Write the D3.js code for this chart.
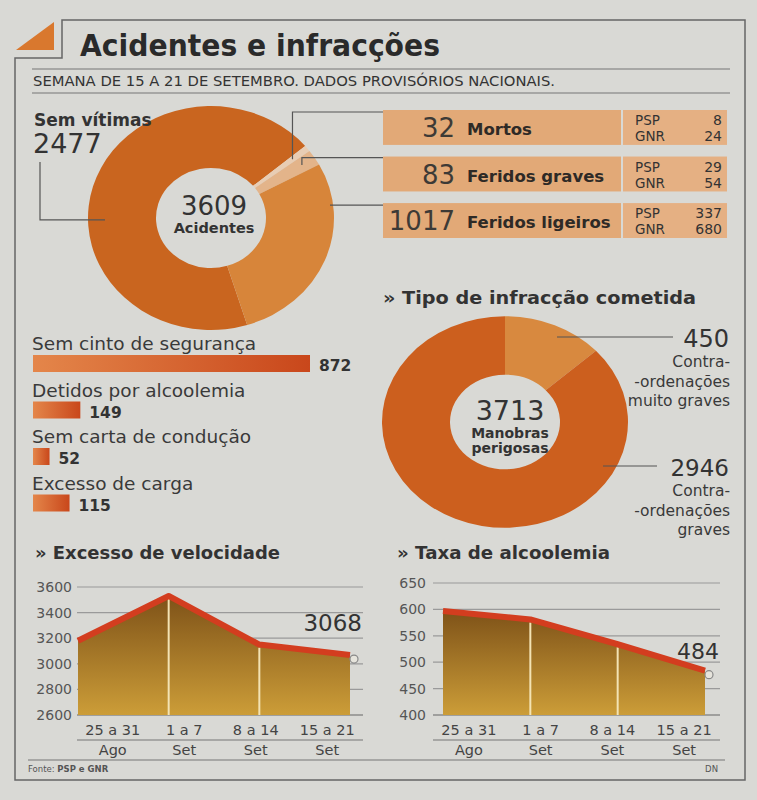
<!DOCTYPE html>
<html>
<head>
<meta charset="utf-8">
<script src="https://cdn.jsdelivr.net/npm/d3@7"></script>
<style>
  body { margin: 0; background: #d9d9d5; }
  text { font-family: "DejaVu Sans", sans-serif; fill: #333; }
  .b { font-weight: bold; }
</style>
</head>
<body>
<div id="chart"></div>
<script>
// accidents donut
const accLabels = ["Sem vítimas", "Mortos", "Feridos graves", "Feridos ligeiros"];
const accValues = [2477, 32, 83, 1017];
const accTotal = 3609;
const psp = [8, 29, 337];
const gnr = [24, 54, 680];

// bars
const barLabels = ["Sem cinto de segurança", "Detidos por alcoolemia", "Sem carta de condução", "Excesso de carga"];
const barValues = [872, 149, 52, 115];

// infractions donut
const infLabels = [["Contra-", "-ordenações", "muito graves"], ["Contra-", "-ordenações", "graves"]];
const infValues = [450, 2946];
const infTotal = 3713;

// weekly series
const weeks = ["25 a 31", "1 a 7", "8 a 14", "15 a 21"];
const months = ["Ago", "Set", "Set", "Set"];
const speedValues = [3180, 3530, 3150, 3068];
const speedTicks = [2600, 2800, 3000, 3200, 3400, 3600];
const alcValues = [597, 581, 534, 484];
const alcTicks = [400, 450, 500, 550, 600, 650];

const W = 757, H = 800;
const svg = d3.select("#chart").append("svg")
    .attr("width", W).attr("height", H);

const defs = svg.append("defs");
const barGrad = defs.append("linearGradient").attr("id", "barGrad");
barGrad.append("stop").attr("offset", "0%").attr("stop-color", "#e4864a");
barGrad.append("stop").attr("offset", "100%").attr("stop-color", "#c9471b");
const areaGrad = defs.append("linearGradient").attr("id", "areaGrad")
    .attr("x1", 0).attr("y1", 0).attr("x2", 0).attr("y2", 1);
areaGrad.append("stop").attr("offset", "0%").attr("stop-color", "#7e5218");
areaGrad.append("stop").attr("offset", "100%").attr("stop-color", "#cc9d38");

// frame
const line = (x1, y1, x2, y2, c, w) => svg.append("line")
    .attr("x1", x1).attr("y1", y1).attr("x2", x2).attr("y2", y2)
    .attr("stroke", c || "#555").attr("stroke-width", w || 1.2);
svg.append("path")
    .attr("d", "M62,20 H745 V780 H15 V58 H62 Z")
    .attr("fill", "none").attr("stroke", "#666").attr("stroke-width", 1.5);
svg.append("path").attr("d", "M16,50 L54,22 L54,50 Z").attr("fill", "#d9782e");

svg.append("text").attr("class", "b").attr("x", 80).attr("y", 56)
    .attr("font-size", 30).attr("textLength", 360).attr("lengthAdjust", "spacingAndGlyphs")
    .style("fill", "#2a2a2a").text("Acidentes e infracções");
line(32, 69, 730, 69, "#777");
svg.append("text").attr("x", 33).attr("y", 86).attr("font-size", 13.5)
    .attr("textLength", 522).attr("lengthAdjust", "spacingAndGlyphs")
    .text("SEMANA DE 15 A 21 DE SETEMBRO. DADOS PROVISÓRIOS NACIONAIS.");
line(32, 93, 730, 93, "#777");

// ---- donut 1
const c1 = { x: 211, y: 218, r: 123, ir: 55, sy: 0.91 };
const pie1 = d3.pie().sort(null)
    .startAngle(-197.1 * Math.PI / 180).endAngle((360 - 197.1) * Math.PI / 180);
const arcs1 = pie1(accValues);
const arc1 = d3.arc().innerRadius(c1.ir).outerRadius(c1.r);
const accColors = ["#c9651f", "#e8cdb4", "#e3b48a", "#d7853a"];
const g1 = svg.append("g").attr("transform", `translate(${c1.x},${c1.y}) scale(1,${c1.sy})`);
g1.selectAll("path").data(arcs1).join("path")
    .attr("d", arc1).attr("fill", (d, i) => accColors[i]);

const pt1 = (a, r) => [c1.x + Math.sin(a) * r, c1.y - Math.cos(a) * r * c1.sy];
svg.append("text").attr("x", c1.x + 3).attr("y", c1.y - 3).attr("text-anchor", "middle")
    .attr("font-size", 26).text(accTotal);
svg.append("text").attr("class", "b").attr("x", c1.x + 3).attr("y", c1.y + 15)
    .attr("text-anchor", "middle").attr("font-size", 14.5).text("Acidentes");

svg.append("text").attr("class", "b").attr("x", 34).attr("y", 126).attr("font-size", 17)
    .text(accLabels[0]);
svg.append("text").attr("x", 33).attr("y", 153).attr("font-size", 27).text(accValues[0]);
const semPt = pt1(-Math.PI / 2 - 0.02, 106);
svg.append("path").attr("d", `M40,162 V${semPt[1]} H${semPt[0]}`)
    .attr("fill", "none").attr("stroke", "#555").attr("stroke-width", 1.2);

// boxes
const yBox = d3.scaleBand().domain(accLabels.slice(1)).range([110, 238]).paddingInner(0.25);
const boxX0 = 383, boxDiv = 623, boxX1 = 727;
accLabels.slice(1).forEach((lab, i) => {
  const y = yBox(lab), h = yBox.bandwidth();
  svg.append("rect").attr("x", boxX0).attr("y", y).attr("width", boxDiv - boxX0 - 2).attr("height", h)
    .attr("fill", "#e2a977");
  svg.append("rect").attr("x", boxDiv).attr("y", y).attr("width", boxX1 - boxDiv).attr("height", h)
    .attr("fill", "#e5b083");
  svg.append("text").attr("x", 455).attr("y", y + 27).attr("text-anchor", "end")
    .attr("font-size", 26).style("fill", "#3d3a36").text(accValues[i + 1]);
  svg.append("text").attr("class", "b").attr("x", 467).attr("y", y + 25)
    .attr("font-size", 16.5).style("fill", "#2e2a26").text(lab);
  svg.append("text").attr("x", 635).attr("y", y + 15).attr("font-size", 13.5).text("PSP");
  svg.append("text").attr("x", 635).attr("y", y + 31).attr("font-size", 13.5).text("GNR");
  svg.append("text").attr("x", 722).attr("y", y + 15).attr("text-anchor", "end").attr("font-size", 14).text(psp[i]);
  svg.append("text").attr("x", 722).attr("y", y + 31).attr("text-anchor", "end").attr("font-size", 14).text(gnr[i]);
});
// leader lines to boxes
const mA = (arcs1[1].startAngle + arcs1[1].endAngle) / 2;
const mP = pt1(mA, 104);
svg.append("path").attr("d", `M${mP[0]},${mP[1]} V${yBox(accLabels[1]) + 2} H${boxX0}`)
  .attr("fill", "none").attr("stroke", "#555").attr("stroke-width", 1.2);
const gA = (arcs1[2].startAngle + arcs1[2].endAngle) / 2;
const gP = pt1(gA, 108);
svg.append("path").attr("d", `M${gP[0]},${gP[1]} V${yBox(accLabels[2]) + 1} H${boxX0}`)
  .attr("fill", "none").attr("stroke", "#555").attr("stroke-width", 1.2);
line(c1.x + 119, yBox(accLabels[3]) + 2, boxX0, yBox(accLabels[3]) + 2, "#555");

// ---- bars
const xBar = d3.scaleLinear().domain([0, 872]).range([0, 277]);
barLabels.forEach((lab, i) => {
  const y0 = 350 + i * 46.5;
  svg.append("text").attr("x", 32).attr("y", y0).attr("font-size", 18.5).style("fill", "#3a3a3a").text(lab);
  svg.append("rect").attr("x", 33).attr("y", y0 + 5).attr("width", xBar(barValues[i])).attr("height", 17)
    .attr("fill", "url(#barGrad)");
  svg.append("text").attr("class", "b").attr("x", 33 + xBar(barValues[i]) + 9)
    .attr("y", y0 + 21).attr("font-size", 15.5).text(barValues[i]);
});

// ---- donut 2
svg.append("text").attr("class", "b").attr("x", 383).attr("y", 304).attr("font-size", 17)
    .attr("textLength", 313).attr("lengthAdjust", "spacingAndGlyphs")
    .text("» Tipo de infracção cometida");
const c2 = { x: 505, y: 422, r: 123, ir: 55, sy: 0.86 };
const arcs2 = d3.pie().sort(null)(infValues);
const arc2 = d3.arc().innerRadius(c2.ir).outerRadius(c2.r);
const g2 = svg.append("g").attr("transform", `translate(${c2.x},${c2.y}) scale(1,${c2.sy})`);
g2.selectAll("path").data(arcs2).join("path")
    .attr("d", arc2).attr("fill", (d, i) => ["#d8893f", "#cc5f1e"][i]);
svg.append("text").attr("x", c2.x + 5).attr("y", c2.y - 2).attr("text-anchor", "middle")
    .attr("font-size", 27).text(infTotal);
svg.append("text").attr("class", "b").attr("x", c2.x + 5).attr("y", c2.y + 16)
    .attr("text-anchor", "middle").attr("font-size", 14).text("Manobras");
svg.append("text").attr("class", "b").attr("x", c2.x + 5).attr("y", c2.y + 31)
    .attr("text-anchor", "middle").attr("font-size", 14).text("perigosas");

const infY = [347, 476];
const infLine = [[557, 673], [603, 657]];
const infSize = [24, 23];
infValues.forEach((v, i) => {
  line(infLine[i][0], infY[i] - 10, infLine[i][1], infY[i] - 10, "#555");
  svg.append("text").attr("x", 729).attr("y", infY[i]).attr("text-anchor", "end")
    .attr("font-size", infSize[i]).text(v);
  infLabels[i].forEach((t, j) => {
    svg.append("text").attr("x", 730).attr("y", infY[i] + 20 + j * 19.5).attr("text-anchor", "end")
      .attr("font-size", 15.5).style("fill", "#3a3a3a").text(t);
  });
});

// ---- area charts
function areaChart(opt) {
  const y = d3.scaleLinear().domain(opt.domain).range([715, opt.top]);
  const x = d3.scalePoint().domain(weeks).range(opt.px);
  const xb = d3.scaleBand().domain(weeks).range(opt.grid);
  const g = svg.append("g");
  g.append("text").attr("class", "b").attr("x", opt.titleX).attr("y", 559).attr("font-size", 17)
    .attr("textLength", opt.titleW).attr("lengthAdjust", "spacingAndGlyphs")
    .text(opt.title);
  opt.ticks.forEach(t => {
    g.append("line").attr("x1", opt.grid[0]).attr("x2", opt.grid[1]).attr("y1", y(t)).attr("y2", y(t))
      .attr("stroke", t === opt.domain[0] ? "#666" : "#9a9a9a").attr("stroke-width", 1.2);
    g.append("text").attr("x", opt.labX).attr("y", y(t) + 5).attr("text-anchor", "end")
      .attr("font-size", 14).style("fill", "#555").text(t);
  });
  const pts = opt.values.map((v, i) => ({ k: weeks[i], v }));
  g.append("path").datum(pts)
    .attr("d", d3.area().x(d => x(d.k)).y0(y(opt.domain[0])).y1(d => y(d.v)))
    .attr("fill", "url(#areaGrad)");
  pts.slice(1, -1).forEach(d => {
    g.append("line").attr("x1", x(d.k)).attr("x2", x(d.k)).attr("y1", y(d.v) + 3).attr("y2", y(opt.domain[0]))
      .attr("stroke", "#f3e3b4").attr("stroke-width", 2);
  });
  g.append("path").datum(pts)
    .attr("d", d3.line().x(d => x(d.k)).y(d => y(d.v)))
    .attr("fill", "none").attr("stroke", "#d33d1f").attr("stroke-width", 6).attr("stroke-linejoin", "round");
  const last = pts[pts.length - 1];
  g.append("circle").attr("cx", x(last.k) + 4).attr("cy", y(last.v) + 4).attr("r", 4)
    .attr("fill", "#e6e4dc").attr("stroke", "#888").attr("stroke-width", 1.2);
  g.append("text").attr("x", opt.grid[1] - 1).attr("y", y(last.v) - opt.lastOff).attr("text-anchor", "end")
    .attr("font-size", opt.lastSize).text(last.v);
  weeks.forEach((w, i) => {
    g.append("text").attr("x", xb(w) + xb.bandwidth() / 2).attr("y", 735).attr("text-anchor", "middle")
      .attr("font-size", 14.5).style("fill", "#444").text(w);
    g.append("text").attr("x", xb(w) + xb.bandwidth() / 2).attr("y", 755).attr("text-anchor", "middle")
      .attr("font-size", 14.5).style("fill", "#444").text(months[i]);
  });
  g.append("line").attr("x1", opt.grid[0]).attr("x2", opt.grid[1]).attr("y1", 740).attr("y2", 740)
    .attr("stroke", "#777").attr("stroke-width", 1.2);
}
areaChart({ title: "» Excesso de velocidade", titleX: 35, titleW: 245, domain: [2600, 3600], top: 587,
  ticks: speedTicks, values: speedValues, px: [78, 350], grid: [77, 363], labX: 72,
  lastOff: 24, lastSize: 23 });
areaChart({ title: "» Taxa de alcoolemia", titleX: 397, titleW: 213, domain: [400, 650], top: 583,
  ticks: alcTicks, values: alcValues, px: [443, 705], grid: [433, 720], labX: 426,
  lastOff: 12, lastSize: 22 });

line(28, 760, 725, 760, "#777");
svg.append("text").attr("x", 28).attr("y", 772).attr("font-size", 8.5).style("fill", "#555").text("Fonte: ")
  .append("tspan").attr("font-weight", "bold").text("PSP e GNR");
svg.append("text").attr("x", 718).attr("y", 772).attr("text-anchor", "end").attr("font-size", 8.5)
  .style("fill", "#555").text("DN");
</script>
</body>
</html>
